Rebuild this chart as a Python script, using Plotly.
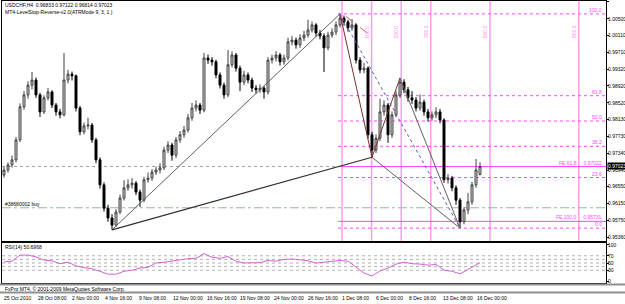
import plotly.graph_objects as go

# ---------------- data ----------------
open_ = [0.9682,0.9694,0.9706,0.9718,0.9765,0.9843,0.9871,0.9894,0.9906,0.9871,
         0.9831,0.9864,0.9878,0.9847,0.9831,0.9824,0.9906,0.9920,0.9916,0.9840,
         0.9784,0.9798,0.9800,0.9765,0.9718,0.9659,0.9604,0.9581,0.9564,0.9595,
         0.9628,0.9652,0.9659,0.9663,0.9642,0.9623,0.9671,0.9675,0.9689,0.9694,
         0.9699,0.9741,0.9753,0.9729,0.9765,0.9777,0.9788,0.9817,0.9840,0.9847,
         0.9835,0.9958,0.9953,0.9949,0.9918,0.9894,0.9871,0.9942,0.9965,0.9934,
         0.9901,0.9918,0.9906,0.9887,0.9883,0.9887,0.9878,0.9953,0.9958,0.9965,
         0.9949,0.9958,0.9996,1.0000,0.9989,1.0005,1.0012,1.0024,1.0036,1.0017,
         1.0010,0.9982,1.0012,1.0019,1.0036,1.0052,1.0043,1.0029,1.0036,0.9953,
         0.9930,0.9934,0.9777,0.9741,0.9769,0.9831,0.9847,0.9777,0.9824,0.9871,
         0.9901,0.9883,0.9864,0.9859,0.9840,0.9854,0.9831,0.9817,0.9824,0.9831,
         0.9812,0.9671,0.9675,0.9652,0.9623,0.9572,0.9600,0.9619,0.9659,0.96833]
high_ = [0.9702,0.9712,0.9728,0.9772,0.9851,0.9880,0.9903,0.9925,0.9912,0.9876,
         0.9870,0.9887,0.9882,0.9852,0.9838,0.9970,0.9930,0.9926,0.9919,0.9845,
         0.9806,0.9817,0.9805,0.9770,0.9724,0.9665,0.9612,0.9590,0.9602,0.9636,
         0.9670,0.9672,0.9675,0.9668,0.9648,0.9678,0.9688,0.9696,0.9702,0.9710,
         0.9749,0.9762,0.9758,0.9772,0.9786,0.9798,0.9826,0.9852,0.9858,0.9852,
         0.9970,0.9966,0.9960,0.9954,0.9924,0.9900,0.9977,0.9974,0.9970,0.9940,
         0.9928,0.9924,0.9912,0.9894,0.9896,0.9892,0.9960,0.9966,0.9974,0.9970,
         0.9966,1.0006,1.0010,1.0006,1.0014,1.0022,1.0048,1.0044,1.0040,1.0024,
         1.0016,1.0020,1.0028,1.0044,1.0062,1.0058,1.0048,1.0050,1.0040,0.9960,
         0.9946,0.9938,0.9784,0.9778,0.9862,0.9858,0.9852,0.9832,0.9880,0.9911,
         0.9908,0.9890,0.9880,0.9866,0.9872,0.9860,0.9838,0.9832,0.9842,0.9838,
         0.9816,0.9684,0.9680,0.9658,0.9628,0.9606,0.9640,0.9666,0.9720,0.97122]
low_ = [0.9676,0.9688,0.9700,0.9712,0.9760,0.9836,0.9862,0.9884,0.9864,0.9819,
        0.9826,0.9858,0.9840,0.9822,0.9816,0.9820,0.9898,0.9905,0.9832,0.9776,
        0.9778,0.9790,0.9758,0.9710,0.9650,0.9596,0.9572,0.9553,0.9560,0.9590,
        0.9622,0.9645,0.9650,0.9635,0.9607,0.9618,0.9664,0.9668,0.9682,0.9686,
        0.9694,0.9734,0.9716,0.9722,0.9758,0.9770,0.9782,0.9810,0.9832,0.9826,
        0.9830,0.9944,0.9940,0.9910,0.9886,0.9862,0.9866,0.9936,0.9926,0.9880,
        0.9894,0.9898,0.9878,0.9874,0.9876,0.9862,0.9872,0.9945,0.9950,0.9940,
        0.9942,0.9952,0.9988,0.9980,0.9982,0.9998,1.0006,1.0018,1.0008,1.0002,
        0.9925,0.9976,1.0006,1.0012,1.0030,1.0034,1.0020,1.0022,0.9945,0.9922,
        0.9922,0.9768,0.9724,0.9734,0.9762,0.9822,0.9758,0.9770,0.9818,0.9864,
        0.9875,0.9855,0.9850,0.9832,0.9834,0.9822,0.9808,0.9810,0.9816,0.9804,
        0.9664,0.9662,0.9644,0.9612,0.9557,0.9566,0.9590,0.9612,0.9652,0.96814]
close_ = [0.9694,0.9706,0.9718,0.9765,0.9843,0.9871,0.9894,0.9906,0.9871,0.9831,
          0.9864,0.9878,0.9847,0.9831,0.9824,0.9906,0.9920,0.9916,0.9840,0.9784,
          0.9798,0.9800,0.9765,0.9718,0.9659,0.9604,0.9581,0.9564,0.9595,0.9628,
          0.9652,0.9659,0.9663,0.9642,0.9623,0.9671,0.9675,0.9689,0.9694,0.9699,
          0.9741,0.9753,0.9729,0.9765,0.9777,0.9788,0.9817,0.9840,0.9847,0.9835,
          0.9958,0.9953,0.9949,0.9918,0.9894,0.9871,0.9942,0.9965,0.9934,0.9901,
          0.9918,0.9906,0.9887,0.9883,0.9887,0.9878,0.9953,0.9958,0.9965,0.9949,
          0.9958,0.9996,1.0000,0.9989,1.0005,1.0012,1.0024,1.0036,1.0017,1.0010,
          0.9982,1.0012,1.0019,1.0036,1.0052,1.0043,1.0029,1.0036,0.9953,0.9930,
          0.9934,0.9777,0.9741,0.9769,0.9831,0.9847,0.9777,0.9824,0.9871,0.9901,
          0.9883,0.9864,0.9859,0.9840,0.9854,0.9831,0.9817,0.9824,0.9831,0.9812,
          0.9671,0.9675,0.9652,0.9623,0.9572,0.9600,0.9619,0.9659,0.9694,0.97023]

rsi = [53,55,72,72,67,58,56,48,52,42,37,34,27,19,19,27,30,36,38,50,
       52,55,60,62,63,76,66,63,68,55,50,50,51,57,55,60,61,59,56,50,
       52,56,57,55,38,22,14,28,36,47,52,48,47,44,46,30,27,20,32,45,50.7]
rsi_levels = [30, 40, 50, 60, 70]
rsi_tick_labels = [0, 30, 50, 70, 100]

date_labels = ["25 Oct 2010", "28 Oct 08:00", "2 Nov 00:00", "4 Nov 16:00", "9 Nov 08:00",
               "12 Nov 00:00", "16 Nov 16:00", "19 Nov 08:00", "24 Nov 00:00", "26 Nov 16:00",
               "1 Dec 08:00", "6 Dec 00:00", "8 Dec 16:00", "13 Dec 08:00", "16 Dec 00:00"]
price_ticks = ["1.00900", "1.00500", "1.00110", "0.99710", "0.99320", "0.98920", "0.98520",
               "0.98130", "0.97730", "0.97340", "0.96940", "0.96550", "0.96150", "0.95750", "0.95360"]

fib_levels = [100.0, 61.8, 50.0, 38.2, 23.6, 0.0]
fe_levels = [61.8, 100.0]
fe_texts = ["0.97022", "0.95731"]
time_zone_levels = [0, 1, 2, 3, 5, 8]
time_zone_texts = ["", "100.0", "200.0", "300.0", "500.0", "800.0"]
order_price = 0.9605
order_text = "#38680002 buy"
title1 = "USDCHF,H4  0.96833 0.97122 0.96814 0.97023"
title2 = "MT4-LevelStop-Reverse-v2.0(ATRMode 9, 3, 1 )"
rsi_title = "RSI(14) 50.6968"
copyright_text = "FxPro MT4, \u00a9 2001-2009 MetaQuotes Software Corp."

# swing points (bar indices)
i_low1, i_A, i_B, i_C, i_D = 27, 84, 92, 99, 114

# ---------------- figure ----------------
W, H = 625, 304
FONT = "Liberation Sans"
FS = 5
PINK = "#ff44ff"
n = len(close_)
idx = list(range(n))
rsi_x = list(range(0, n - 1, 2)) + [n - 1]
XR = [-0.5, 150.5]

def py(y):  # pixel row -> paper y
    return 1 - y / H

fig = go.Figure()
fig.add_trace(go.Candlestick(
    x=idx, open=open_, high=high_, low=low_, close=close_,
    increasing=dict(line=dict(color="#404040", width=1), fillcolor="#d9d9d9"),
    decreasing=dict(line=dict(color="#000000", width=1), fillcolor="#000000"),
    whiskerwidth=0, showlegend=False, hoverinfo="skip", xaxis="x", yaxis="y"))
fig.add_trace(go.Scatter(x=rsi_x, y=rsi, mode="lines", line=dict(color="#d264d2", width=1),
                         showlegend=False, hoverinfo="skip", xaxis="x2", yaxis="y2"))

shapes = []
A_hi, D_lo = high_[i_A], low_[i_D]
B_lo, C_hi = low_[i_B], high_[i_C]

# fibonacci time zones
tz_base, tz_unit = i_A + 0.5, 7.4
for lv in time_zone_levels:
    xv = tz_base + lv * tz_unit
    shapes.append(dict(type="line", xref="x", yref="y domain", x0=xv, x1=xv, y0=0, y1=1,
                       line=dict(color="#ff9cf0", width=1.5), layer="below"))
# fib retracement
for lv in fib_levels:
    pv = D_lo + lv / 100 * (A_hi - D_lo)
    shapes.append(dict(type="line", xref="x", yref="y", x0=i_A - 0.5, x1=XR[1], y0=pv, y1=pv,
                       line=dict(color=PINK, width=1, dash="dot"), layer="below"))
# fib expansion
fe_prices = [C_hi - lv / 100 * (A_hi - B_lo) for lv in fe_levels]
for pv in fe_prices:
    shapes.append(dict(type="line", xref="x", yref="y", x0=i_A - 0.5, x1=XR[1], y0=pv, y1=pv,
                       line=dict(color=PINK, width=1), layer="below"))
# bid line and order line
shapes.append(dict(type="line", xref="x domain", yref="y", x0=0, x1=1, y0=close_[-1], y1=close_[-1],
                   line=dict(color="#a0a0a0", width=1, dash="dot"), layer="below"))
shapes.append(dict(type="line", xref="x domain", yref="y", x0=0, x1=1, y0=order_price, y1=order_price,
                   line=dict(color="#8fbc8f", width=1, dash="dashdot"), layer="below"))
# trend lines
def seg(x0, y0, x1, y1, color, width=1, dash="solid"):
    shapes.append(dict(type="line", xref="x", yref="y", x0=x0, y0=y0, x1=x1, y1=y1,
                       line=dict(color=color, width=width, dash=dash)))
seg(i_low1, low_[i_low1], i_A, A_hi, "#606060")
seg(i_low1, low_[i_low1], i_B, B_lo, "#303030", 1.2)
seg(i_B, B_lo, i_D, D_lo, "#606060")
seg(i_A, A_hi, i_B, B_lo, "#7a3030")
seg(i_B, B_lo, i_C, C_hi, "#7a3030")
seg(i_C, C_hi, i_D, D_lo, "#606060")
seg(i_A, A_hi, i_D, D_lo, "#5a5ab0", 1, "dot")
seg(i_A + 1.5, high_[i_A + 1] - 0.0002, i_B, high_[i_B - 2] + 0.0062, "#c06060", 1, "dash")

# bottom band lines
for yy in (284.5, 292.5):
    shapes.append(dict(type="line", xref="paper", yref="paper", x0=0, x1=1, y0=py(yy), y1=py(yy),
                       line=dict(color="#909090", width=2)))

ann = []
def txt(text, x, y, xref="paper", yref="paper", xanchor="left", yanchor="middle", color="#000",
        size=FS, **kw):
    ann.append(dict(text=text, x=x, y=y, xref=xref, yref=yref, xanchor=xanchor, yanchor=yanchor,
                    showarrow=False, font=dict(family=FONT, size=size, color=color),
                    borderpad=0, **kw))

txt(title1, 4 / W, py(5))
txt(title2, 4 / W, py(12))
txt(order_text, 4 / W, order_price, yref="y", yanchor="bottom")
txt(rsi_title, 4 / W, py(247))
txt(copyright_text, 4 / W, py(288.5))
for k, lab in enumerate(date_labels):
    txt(lab, -0.25 + k * 8.446, py(298), xref="x2")
for lv in fib_levels:
    pv = D_lo + lv / 100 * (A_hi - D_lo)
    txt(f"{lv:.1f}", 603 / W, pv, yref="y", xanchor="right", yanchor="bottom", color=PINK)
for lv, pv, t in zip(fe_levels, fe_prices, fe_texts):
    txt(f"FE {lv:.1f}     {t}", 603 / W, pv, yref="y", xanchor="right", yanchor="bottom", color=PINK)
for lv, t in zip(time_zone_levels, time_zone_texts):
    if t:
        txt(t, tz_base + lv * tz_unit - 1.2, py(32), xref="x", xanchor="center", color="#ff88ee",
            textangle=-90)
txt(f"{close_[-1]:.5f}", 607 / W, close_[-1], yref="y", color="#fff", bgcolor="#000")

tickvals = [float(t) for t in price_ticks]
axis_common = dict(showgrid=False, zeroline=False, showline=True, mirror=True,
                   linecolor="#000", linewidth=1)
fig.update_layout(
    width=W, height=H, margin=dict(l=0, r=0, t=0, b=0),
    paper_bgcolor="#fff", plot_bgcolor="#fff",
    xaxis=dict(domain=[2 / W, 606 / W], range=XR, anchor="y", showticklabels=False,
               ticks="", rangeslider=dict(visible=False), **axis_common),
    yaxis=dict(domain=[py(241), py(1)], range=[0.95267, 1.00923], side="right",
               tickvals=tickvals, ticktext=price_ticks, ticks="outside", ticklen=2,
               ticklabelstandoff=-2,
               tickcolor="#000", tickfont=dict(family=FONT, size=FS, color="#000"),
               automargin=False, anchor="x", **axis_common),
    xaxis2=dict(domain=[2 / W, 606 / W], range=XR, anchor="y2", showticklabels=False,
                ticks="", matches="x", **axis_common),
    yaxis2=dict(domain=[py(283), py(243)], range=[-5.5, 105.5], side="right",
                tickvals=rsi_tick_labels, ticks="outside", ticklen=2, ticklabelstandoff=-2,
                tickcolor="#000",
                tickfont=dict(family=FONT, size=FS, color="#000"), automargin=False,
                anchor="x2", **axis_common),
    shapes=shapes, annotations=ann,
)
for lv in rsi_levels:
    fig.add_shape(type="line", xref="x2 domain", yref="y2", x0=0, x1=1, y0=lv, y1=lv,
                  line=dict(color="#b0b0b0", width=1, dash="dot"), layer="below")

fig.write_html("out.html")
